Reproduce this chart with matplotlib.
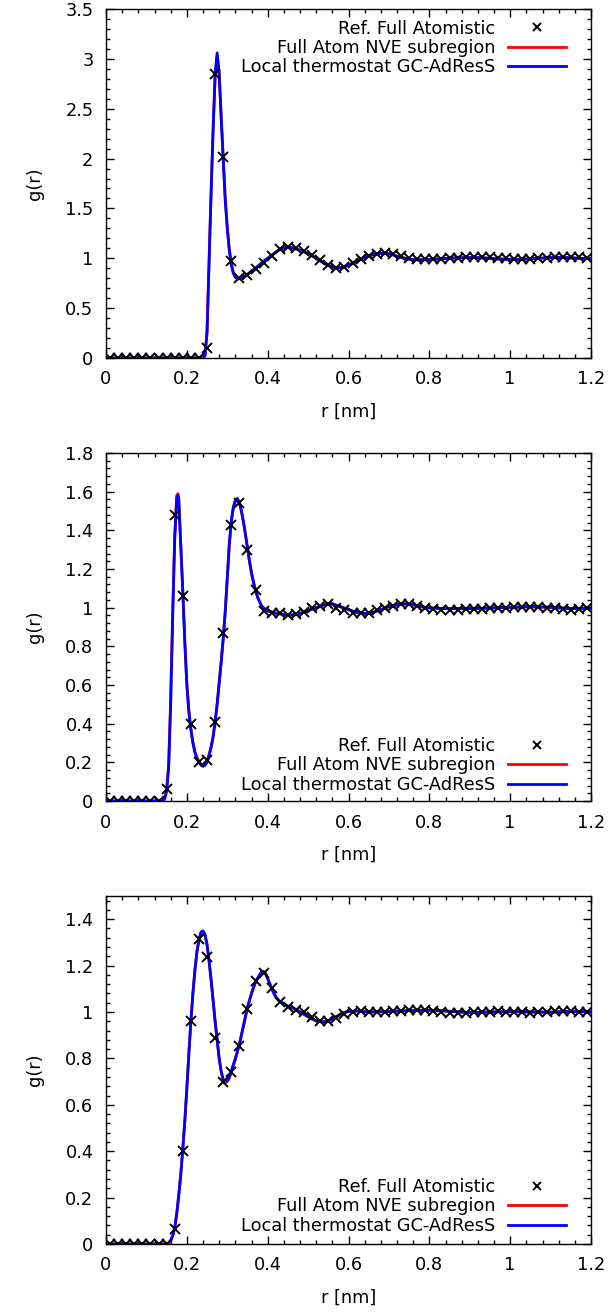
import numpy as np
import matplotlib
matplotlib.use('Agg')
import matplotlib.pyplot as plt
from matplotlib.ticker import MultipleLocator, FormatStrFormatter

plt.rcParams['font.family'] = ['DejaVu Sans']
plt.rcParams['font.size'] = 12.8

# reference points (bin centres)
r_ref = [0.01 + 0.02*i for i in range(60)]

g_ref_1 = [0, 0, 0, 0, 0, 0, 0, 0, 0, 0, 0, 0,
           0.10, 2.85, 2.02, 0.97, 0.80, 0.83, 0.89, 0.95, 1.02, 1.09,
           1.11, 1.10, 1.07, 1.03, 0.98, 0.93, 0.90, 0.91, 0.95, 0.99,
           1.02, 1.04, 1.05, 1.04, 1.02, 1.00, 0.99, 0.99, 0.99, 0.99,
           1.00, 1.00, 1.01, 1.01, 1.01, 1.01, 1.00, 1.00, 0.99, 0.99,
           0.99, 1.00, 1.00, 1.01, 1.01, 1.01, 1.01, 1.00]

g_ref_2 = [0, 0, 0, 0, 0, 0, 0,
           0.06, 1.48, 1.06, 0.40, 0.20, 0.21, 0.41, 0.87, 1.43, 1.54,
           1.30, 1.09, 0.985, 0.97, 0.97, 0.96, 0.965, 0.98, 1.00, 1.01,
           1.02, 1.00, 0.99, 0.975, 0.97, 0.97, 0.99, 1.00, 1.01, 1.02,
           1.02, 1.01, 1.00,
           0.995, 0.99, 0.99, 0.99, 0.995, 0.995, 0.995, 1.00, 1.00, 1.00,
           1.005, 1.005, 1.005, 1.005, 1.00, 1.00, 0.995, 0.99, 0.995, 1.00]

g_ref_3 = [0, 0, 0, 0, 0, 0, 0, 0,
           0.065, 0.40, 0.96, 1.315, 1.235, 0.89, 0.70, 0.74, 0.855, 1.015,
           1.135, 1.17, 1.105, 1.045, 1.02, 1.01, 1.00, 0.98, 0.96, 0.96,
           0.975, 0.99, 1.00, 1.005,
           1.00, 1.00, 1.00, 1.005, 1.005, 1.01, 1.01, 1.01, 1.005, 1.00,
           0.995, 0.995, 0.995, 1.00, 1.00, 1.00, 1.005, 1.00, 1.00, 1.00,
           0.995, 1.00, 1.00, 1.005, 1.005, 1.005, 1.00, 1.00]

# NVE subregion / GC-AdResS curves
r_1 = [0.0, 0.23, 0.24, 0.245, 0.25, 0.255, 0.26, 0.265, 0.27, 0.275,
       0.28, 0.285, 0.29, 0.295, 0.30, 0.305, 0.31, 0.315, 0.32, 0.325,
       0.33, 0.34, 0.35, 0.36, 0.37, 0.38, 0.39, 0.40, 0.41, 0.42,
       0.43, 0.44, 0.45, 0.46, 0.47, 0.48, 0.49, 0.50, 0.51, 0.52,
       0.53, 0.54, 0.55, 0.56, 0.57, 0.58, 0.59, 0.60, 0.61, 0.62,
       0.63, 0.64, 0.65, 0.66, 0.67, 0.68, 0.69, 0.70, 0.71, 0.72,
       0.73, 0.74, 0.75, 0.77, 0.79, 0.81, 0.83, 0.85, 0.87, 0.89,
       0.91, 0.93, 0.95, 0.97, 0.99, 1.01, 1.03, 1.05, 1.07, 1.09,
       1.11, 1.13, 1.15, 1.17, 1.20]
g_gc_1 = [0, 0, 0, 0.02, 0.25, 0.95, 1.65, 2.3, 2.85, 3.06,
          2.85, 2.4, 1.99, 1.58, 1.3, 1.08, 0.93, 0.85, 0.81, 0.795,
          0.80, 0.815, 0.84, 0.87, 0.90, 0.935, 0.97, 1.00, 1.03, 1.06,
          1.09, 1.105, 1.11, 1.105, 1.095, 1.08, 1.065, 1.045, 1.025, 1.00,
          0.975, 0.95, 0.93, 0.915, 0.905, 0.905, 0.915, 0.93, 0.95, 0.97,
          0.99, 1.01, 1.025, 1.035, 1.045, 1.05, 1.05, 1.045, 1.035, 1.02,
          1.01, 1.00, 0.99, 0.985, 0.985, 0.99, 0.995, 1.00, 1.005, 1.008,
          1.008, 1.005, 1.00, 0.995, 0.99, 0.99, 0.99, 0.995, 1.00, 1.005,
          1.008, 1.008, 1.005, 1.00, 0.995]
g_nve_1 = [0, 0, 0, 0.03, 0.28, 0.98, 1.66, 2.28, 2.82, 3.03,
           2.86, 2.43, 2.01, 1.61, 1.32, 1.10, 0.95, 0.86, 0.81, 0.79,
           0.795, 0.81, 0.835, 0.87, 0.90, 0.935, 0.97, 1.00, 1.03, 1.06,
           1.09, 1.105, 1.11, 1.105, 1.095, 1.08, 1.065, 1.045, 1.025, 1.00,
           0.975, 0.95, 0.93, 0.915, 0.905, 0.905, 0.915, 0.93, 0.95, 0.97,
           0.99, 1.01, 1.025, 1.035, 1.045, 1.05, 1.05, 1.045, 1.035, 1.02,
           1.01, 1.00, 0.99, 0.985, 0.985, 0.99, 0.995, 1.00, 1.005, 1.008,
           1.008, 1.005, 1.00, 0.995, 0.99, 0.99, 0.99, 0.995, 1.00, 1.005,
           1.008, 1.008, 1.005, 1.00, 0.995]

r_2 = [0.0, 0.14, 0.145, 0.15, 0.155, 0.16, 0.165, 0.17, 0.175, 0.178,
       0.18, 0.185, 0.19, 0.195, 0.20, 0.205, 0.21, 0.215, 0.22, 0.225,
       0.23, 0.235, 0.24, 0.245, 0.25, 0.255, 0.26, 0.265, 0.27, 0.275,
       0.28, 0.285, 0.29, 0.295, 0.30, 0.305, 0.31, 0.315, 0.32, 0.325,
       0.33, 0.335, 0.34, 0.345, 0.35, 0.355, 0.36, 0.365, 0.37, 0.375,
       0.38, 0.385, 0.39, 0.395, 0.40, 0.42, 0.44, 0.46, 0.48, 0.50,
       0.52, 0.54, 0.56, 0.58, 0.60, 0.62, 0.64, 0.66, 0.68, 0.70,
       0.72, 0.74, 0.76, 0.78, 0.80, 0.85, 0.90, 0.95, 1.00, 1.05,
       1.10, 1.15, 1.20]
g_gc_2 = [0, 0, 0.01, 0.05, 0.17, 0.50, 0.95, 1.35, 1.57, 1.58,
          1.56, 1.32, 1.08, 0.82, 0.60, 0.46, 0.37, 0.30, 0.25, 0.22,
          0.20, 0.185, 0.18, 0.185, 0.20, 0.235, 0.275, 0.33, 0.41, 0.50,
          0.61, 0.72, 0.84, 0.98, 1.15, 1.33, 1.45, 1.52, 1.555, 1.565,
          1.545, 1.50, 1.445, 1.38, 1.31, 1.24, 1.18, 1.13, 1.09, 1.055,
          1.03, 1.01, 0.998, 0.99, 0.983, 0.972, 0.965, 0.962, 0.97, 0.985,
          1.00, 1.015, 1.02, 1.005, 0.99, 0.975, 0.97, 0.975, 0.99, 1.005,
          1.015, 1.02, 1.015, 1.005, 0.998, 0.995, 0.995, 0.998, 1.002, 1.005,
          1.002, 0.995, 0.998]
g_nve_2 = [0, 0, 0.01, 0.06, 0.19, 0.53, 0.98, 1.37, 1.58, 1.59,
           1.56, 1.33, 1.09, 0.83, 0.61, 0.47, 0.375, 0.305, 0.255, 0.225,
           0.205, 0.19, 0.185, 0.19, 0.205, 0.24, 0.28, 0.335, 0.41, 0.50,
           0.61, 0.72, 0.84, 0.98, 1.15, 1.32, 1.44, 1.515, 1.55, 1.56,
           1.545, 1.50, 1.445, 1.38, 1.31, 1.24, 1.18, 1.13, 1.09, 1.055,
           1.03, 1.01, 0.998, 0.99, 0.983, 0.972, 0.965, 0.962, 0.97, 0.985,
           1.00, 1.015, 1.02, 1.005, 0.99, 0.975, 0.97, 0.975, 0.99, 1.005,
           1.015, 1.02, 1.015, 1.005, 0.998, 0.995, 0.995, 0.998, 1.002, 1.005,
           1.002, 0.995, 0.998]

r_3 = [0.0, 0.15, 0.155, 0.16, 0.165, 0.17, 0.175, 0.18, 0.185, 0.19,
       0.195, 0.20, 0.205, 0.21, 0.215, 0.22, 0.225, 0.23, 0.235, 0.24,
       0.245, 0.25, 0.255, 0.26, 0.265, 0.27, 0.275, 0.28, 0.285, 0.29,
       0.295, 0.30, 0.305, 0.31, 0.32, 0.33, 0.34, 0.35, 0.36, 0.37,
       0.38, 0.385, 0.39, 0.395, 0.40, 0.41, 0.42, 0.43, 0.44, 0.45,
       0.46, 0.47, 0.48, 0.49, 0.50, 0.51, 0.52, 0.53, 0.54, 0.55,
       0.56, 0.57, 0.58, 0.59, 0.60, 0.62, 0.65, 0.70, 0.75, 0.80,
       0.85, 0.90, 0.95, 1.00, 1.05, 1.10, 1.15, 1.20]
g_gc_3 = [0, 0, 0.005, 0.015, 0.035, 0.07, 0.13, 0.21, 0.30, 0.41,
          0.53, 0.67, 0.82, 0.96, 1.08, 1.18, 1.26, 1.31, 1.345, 1.35,
          1.335, 1.29, 1.22, 1.14, 1.05, 0.96, 0.88, 0.80, 0.745, 0.71,
          0.70, 0.705, 0.72, 0.745, 0.80, 0.86, 0.94, 1.02, 1.08, 1.13,
          1.16, 1.172, 1.175, 1.165, 1.145, 1.10, 1.065, 1.045, 1.035, 1.025,
          1.02, 1.01, 1.0, 0.99, 0.98, 0.97, 0.962, 0.958, 0.958, 0.962,
          0.97, 0.98, 0.99, 0.998, 1.002, 1.004, 1.0, 1.002, 1.006, 1.008,
          1.003, 0.997, 1.0, 1.002, 1.0, 0.999, 1.003, 1.001]
g_nve_3 = [0, 0, 0.005, 0.015, 0.035, 0.07, 0.13, 0.21, 0.30, 0.41,
           0.53, 0.67, 0.82, 0.96, 1.08, 1.18, 1.26, 1.31, 1.34, 1.345,
           1.33, 1.29, 1.22, 1.14, 1.05, 0.96, 0.88, 0.80, 0.74, 0.705,
           0.695, 0.70, 0.715, 0.74, 0.795, 0.86, 0.94, 1.02, 1.08, 1.13,
           1.16, 1.17, 1.172, 1.165, 1.145, 1.10, 1.065, 1.045, 1.035, 1.025,
           1.02, 1.01, 1.0, 0.99, 0.98, 0.97, 0.962, 0.958, 0.958, 0.962,
           0.97, 0.98, 0.99, 0.998, 1.002, 1.004, 1.0, 1.002, 1.006, 1.008,
           1.003, 0.997, 1.0, 1.002, 1.0, 0.999, 1.003, 1.001]

panels = [
    (r_1, g_nve_1, g_gc_1, g_ref_1, 3.5, 0.5, 0.1, 'upper right', (0.963, 0.99)),
    (r_2, g_nve_2, g_gc_2, g_ref_2, 1.8, 0.2, 0.04, 'lower right', (0.963, 0.0)),
    (r_3, g_nve_3, g_gc_3, g_ref_3, 1.5, 0.2, 0.04, 'lower right', (0.963, 0.006)),
]
bottoms = [1 - 358/1315, 1 - 801/1315, 1 - 1244/1315]
heights = [349/1315, 348/1315, 348/1315]

fig = plt.figure(figsize=(6.11, 13.15), dpi=100)

for k, (r, gn, gg, gref, ymax, ymaj, ymin, loc, anchor) in enumerate(panels):
    ax = fig.add_axes([106/611, bottoms[k], 485/611, heights[k]])
    ax.plot(r_ref, gref, 'x', color='black', ms=6.5, mew=1.4,
            label='Ref. Full Atomistic', zorder=4)
    ax.plot(r, gn, '-', color='red', lw=2, label='Full Atom NVE subregion', zorder=2)
    ax.plot(r, gg, '-', color='blue', lw=2, label='Local thermostat GC-AdResS', zorder=3)

    ax.set_xlim(0, 1.2)
    ax.set_ylim(0, ymax)
    ax.xaxis.set_major_locator(MultipleLocator(0.2))
    ax.xaxis.set_minor_locator(MultipleLocator(0.04))
    ax.yaxis.set_major_locator(MultipleLocator(ymaj))
    ax.yaxis.set_minor_locator(MultipleLocator(ymin))
    ax.xaxis.set_major_formatter(FormatStrFormatter('%g'))
    ax.yaxis.set_major_formatter(FormatStrFormatter('%g'))
    ax.tick_params(which='both', direction='in', top=True, right=True, labelsize=12.8)
    ax.tick_params(which='major', length=6, width=1)
    ax.tick_params(which='minor', length=3, width=1)
    ax.tick_params(axis='x', which='major', pad=9)
    ax.tick_params(axis='y', which='major', pad=9)
    for s in ax.spines.values():
        s.set_linewidth(1)

    ax.set_xlabel('r [nm]', labelpad=10)
    ax.set_ylabel('g(r)', labelpad=15)

    ax.legend(loc=loc, bbox_to_anchor=anchor, frameon=False, markerfirst=False,
              handlelength=3.26, labelspacing=0.08, handletextpad=0.73,
              borderaxespad=0, borderpad=0.4, markerscale=0.8)

fig.savefig('out.png', dpi=100)
